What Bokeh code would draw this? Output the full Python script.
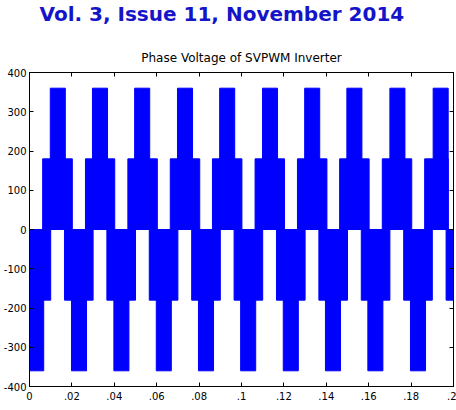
from bokeh.plotting import figure
from bokeh.models import (Range1d, FixedTicker, LinearAxis, Title,
                          ColumnDataSource, CustomJSTickFormatter)
from bokeh.embed import file_html
from bokeh.resources import INLINE

# ---- data (time in s, voltage in V) ----
level_pos_high = 360
level_pos_low = 180
level_neg_low = -180
level_neg_high = -360

pos360_start = [0.0098, 0.0297, 0.0496, 0.0698, 0.0897, 0.1099, 0.1298, 0.1497, 0.1700, 0.1904]
pos360_end   = [0.0169, 0.0368, 0.0567, 0.0769, 0.0968, 0.1170, 0.1369, 0.1568, 0.1771, 0.1975]

pos180_start = [0.0062, 0.0264, 0.0464, 0.0664, 0.0863, 0.1064, 0.1264, 0.1463, 0.1664, 0.1864]
pos180_end   = [0.0202, 0.0402, 0.0603, 0.0803, 0.1002, 0.1203, 0.1403, 0.1602, 0.1803, 0.1975]

neg180_start = [0.0000, 0.0165, 0.0365, 0.0565, 0.0765, 0.0965, 0.1165, 0.1365, 0.1565, 0.1765, 0.1965]
neg180_end   = [0.0100, 0.0300, 0.0500, 0.0700, 0.0900, 0.1100, 0.1300, 0.1500, 0.1700, 0.1900, 0.2000]

neg360_start = [0.0000, 0.0198, 0.0398, 0.0598, 0.0797, 0.0996, 0.1197, 0.1396, 0.1596, 0.1797]
neg360_end   = [0.0067, 0.0269, 0.0469, 0.0669, 0.0868, 0.1067, 0.1268, 0.1467, 0.1667, 0.1868]

x_ticks = [0, 0.02, 0.04, 0.06, 0.08, 0.1, 0.12, 0.14, 0.16, 0.18, 0.2]
x_tick_labels = ["0", ".02", ".04", ".06", ".08", ".1", ".12", ".14", ".16", ".18", ".2"]
y_ticks = [-400, -300, -200, -100, 0, 100, 200, 300, 400]
y_tick_labels = ["-400", "-300", "-200", "-100", "0", "100", "200", "300", "400"]

header_text = "Vol. 3, Issue 11, November 2014"
title_text = "Phase Voltage of SVPWM Inverter"

# ---- build the block table ----
lefts, rights, tops = [], [], []
for starts, ends, lev in [(neg180_start, neg180_end, level_neg_low),
                          (neg360_start, neg360_end, level_neg_high),
                          (pos180_start, pos180_end, level_pos_low),
                          (pos360_start, pos360_end, level_pos_high)]:
    lefts += starts
    rights += ends
    tops += [lev] * len(starts)
src = ColumnDataSource(dict(left=lefts, right=rights, top=tops, bottom=[0] * len(lefts)))

p = figure(width=456, height=410, x_range=Range1d(0, 0.2), y_range=Range1d(-400, 400),
           output_backend="svg", toolbar_location=None,
           min_border_left=29, min_border_right=3, min_border_top=72, min_border_bottom=24)
p.background_fill_color = "white"
p.border_fill_color = "white"
p.outline_line_color = "black"
p.outline_line_width = 1
p.xgrid.visible = False
p.ygrid.visible = False

p.quad(left="left", right="right", top="top", bottom="bottom", source=src,
       fill_color="#0000ff", line_color="#0000ff", line_width=1)

xfmt = CustomJSTickFormatter(args=dict(t=x_ticks, l=x_tick_labels),
                             code="const i = t.indexOf(tick); return i >= 0 ? l[i] : '';")
yfmt = CustomJSTickFormatter(args=dict(t=y_ticks, l=y_tick_labels),
                             code="const i = t.indexOf(tick); return i >= 0 ? l[i] : '';")
blank = CustomJSTickFormatter(code="return '';")

def style(ax, labels=True):
    ax.major_tick_in = 4
    ax.major_tick_out = 0
    ax.minor_tick_line_color = None
    ax.axis_line_color = "black"
    ax.major_tick_line_color = "black"
    ax.major_label_text_font = "DejaVu Sans"
    ax.major_label_text_font_size = "10px"
    ax.major_label_text_color = "black"
    if not labels:
        ax.major_label_standoff = 0

xa = p.xaxis[0]
xa.ticker = FixedTicker(ticks=x_ticks)
xa.formatter = xfmt
style(xa)
xa.major_label_standoff = 5

ya = p.yaxis[0]
ya.ticker = FixedTicker(ticks=y_ticks)
ya.formatter = yfmt
style(ya)
ya.major_label_standoff = 3

top_ax = LinearAxis(ticker=FixedTicker(ticks=x_ticks), formatter=blank)
style(top_ax, labels=False)
p.add_layout(top_ax, "above")
right_ax = LinearAxis(ticker=FixedTicker(ticks=y_ticks), formatter=blank)
style(right_ax, labels=False)
p.add_layout(right_ax, "right")

# leading empty line keeps a gap between the chart title and the header
p.add_layout(Title(text="\n" + title_text, align="center", text_font="DejaVu Sans",
                   text_font_size="12px", text_font_style="normal", text_color="black",
                   vertical_align="bottom", standoff=15), "above")

p.add_layout(Title(text=header_text, align="left", offset=10, text_font="DejaVu Sans",
                   text_font_size="20px", text_font_style="bold", text_color="#1414c8",
                   vertical_align="top", standoff=0), "above")

open("out.html", "w").write(file_html(p, INLINE))
